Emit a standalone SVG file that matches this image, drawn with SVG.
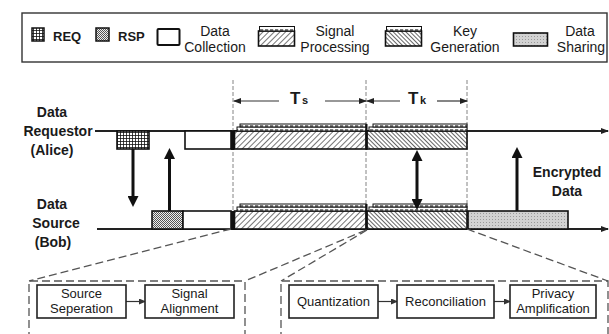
<svg xmlns="http://www.w3.org/2000/svg" width="609" height="334" viewBox="0 0 609 334">
<defs>
<style>
text{font-family:"Liberation Sans",Arial,sans-serif;fill:#1a1a1a}
.lg{font-size:14px}
.lgb{font-size:13px;font-weight:bold}
.lab{font-size:14px;font-weight:bold;text-anchor:middle}
.bx{font-size:13px;text-anchor:middle}
.blk{stroke:#111;stroke-width:1.6}
.lay{stroke:#111;stroke-width:1;fill:url(#dash)}
.tl{stroke:#222;stroke-width:2;fill:none}
.dv{stroke:#666;stroke-width:0.8;stroke-dasharray:4 2;fill:none}
.dx{stroke:#555;stroke-width:1.3;stroke-dasharray:8 4;fill:none}
.va{stroke:#111;stroke-width:3;fill:none}
.ha{stroke:#333;stroke-width:1.2;fill:none}
.fb{fill:#fff;stroke:#222;stroke-width:1.6}
</style>
<pattern id="grid" width="3" height="3" patternUnits="userSpaceOnUse">
<rect width="3" height="3" fill="#fff"/>
<path d="M0,0.5H3M0.5,0V3" stroke="#111" stroke-width="0.8"/>
</pattern>
<pattern id="mesh" width="2" height="2" patternUnits="userSpaceOnUse">
<rect width="2" height="2" fill="#eee"/>
<rect width="1" height="1" fill="#555"/>
<rect x="1" y="1" width="1" height="1" fill="#555"/>
</pattern>
<pattern id="sp" width="4" height="4" patternUnits="userSpaceOnUse" patternTransform="rotate(45)">
<rect width="4" height="4" fill="#fff"/>
<line x1="0.5" y1="0" x2="0.5" y2="4" stroke="#666" stroke-width="0.9"/>
</pattern>
<pattern id="kg" width="3" height="3" patternUnits="userSpaceOnUse" patternTransform="rotate(-45)">
<rect width="3" height="3" fill="#fff"/>
<line x1="0.5" y1="0" x2="0.5" y2="3" stroke="#555" stroke-width="0.9"/>
</pattern>
<pattern id="ds" width="3" height="3" patternUnits="userSpaceOnUse">
<rect width="3" height="3" fill="#d2d2d2"/>
<rect width="1" height="1" fill="#9a9a9a"/>
</pattern>
<pattern id="dash" width="5" height="4" patternUnits="userSpaceOnUse">
<rect width="5" height="4" fill="#fff"/>
<rect x="0" y="1.3" width="3.2" height="1.4" fill="#444"/>
</pattern>
<marker id="big" viewBox="0 0 11 11" refX="2" refY="5.5" markerWidth="11" markerHeight="11" markerUnits="userSpaceOnUse" orient="auto-start-reverse">
<path d="M0,0L11,5.5L0,11z" fill="#111"/>
</marker>
<marker id="sm" viewBox="0 0 8 6" refX="7" refY="3" markerWidth="8" markerHeight="6" markerUnits="userSpaceOnUse" orient="auto">
<path d="M0,0L8,3L0,6z" fill="#222"/>
</marker>
<marker id="tiny" viewBox="0 0 7 6" refX="6" refY="3" markerWidth="7" markerHeight="6" markerUnits="userSpaceOnUse" orient="auto">
<path d="M0,0L7,3L0,6z" fill="#333"/>
</marker>
</defs>

<rect width="609" height="334" fill="#fff"/>

<g id="legend">
<rect x="22" y="13" width="585" height="49" fill="#fff" stroke="#333" stroke-width="1.4"/>
<rect x="32" y="28" width="12" height="13" fill="url(#grid)" stroke="#111" stroke-width="1.5"/>
<text class="lgb" x="53" y="41">REQ</text>
<rect x="96" y="28" width="13" height="13" fill="url(#mesh)" stroke="#111" stroke-width="1.5"/>
<text class="lgb" x="118" y="41">RSP</text>
<rect x="157.5" y="29" width="22" height="16" rx="1" fill="#fff" stroke="#111" stroke-width="2"/>
<text class="lg" x="215" y="36" text-anchor="middle">Data</text>
<text class="lg" x="215" y="52" text-anchor="middle">Collection</text>
<rect x="258.5" y="31" width="36" height="15" fill="url(#sp)" class="blk"/>
<rect x="259.5" y="26.5" width="35" height="4.5" class="lay"/>
<text class="lg" x="335" y="36" text-anchor="middle">Signal</text>
<text class="lg" x="335" y="52" text-anchor="middle">Processing</text>
<rect x="385.5" y="31" width="36" height="15" fill="url(#kg)" class="blk"/>
<rect x="386.5" y="26.5" width="35" height="4.5" class="lay"/>
<text class="lg" x="465" y="36" text-anchor="middle">Key</text>
<text class="lg" x="465" y="52" text-anchor="middle">Generation</text>
<rect x="513.5" y="33" width="34" height="13" fill="url(#ds)" class="blk"/>
<text class="lg" x="580" y="36" text-anchor="middle">Data</text>
<text class="lg" x="581" y="52" text-anchor="middle">Sharing</text>
</g>

<g id="labels">
<text class="lab" x="52" y="117">Data</text>
<text class="lab" x="58" y="136">Requestor</text>
<text class="lab" x="52" y="155">(Alice)</text>
<text class="lab" x="52" y="209">Data</text>
<text class="lab" x="56" y="228">Source</text>
<text class="lab" x="53" y="247">(Bob)</text>
</g>

<g id="timing">
<line class="dv" x1="233" y1="80" x2="233" y2="230"/>
<line class="dv" x1="366" y1="80" x2="366" y2="230"/>
<line class="dv" x1="467" y1="80" x2="467" y2="230"/>
<line class="ha" x1="279" y1="101" x2="234" y2="101" marker-end="url(#sm)"/>
<line class="ha" x1="325" y1="101" x2="366" y2="101" marker-end="url(#sm)"/>
<line class="ha" x1="400" y1="101" x2="367" y2="101" marker-end="url(#sm)"/>
<line class="ha" x1="437" y1="101" x2="467" y2="101" marker-end="url(#sm)"/>
<text x="290" y="104" font-size="17" font-weight="bold">T</text>
<text x="302" y="104" font-size="11" font-weight="bold">s</text>
<text x="408" y="104" font-size="17" font-weight="bold">T</text>
<text x="420" y="104" font-size="11" font-weight="bold">k</text>
</g>

<g id="timelines">
<line class="tl" x1="95" y1="131" x2="608" y2="131" marker-end="url(#sm)"/>
<line class="tl" x1="97" y1="229" x2="608" y2="229" marker-end="url(#sm)"/>
</g>

<g id="alice-req"><rect x="117" y="131" width="32" height="18" fill="url(#grid)" class="blk"/></g>
<g id="alice-dc"><rect x="185" y="131" width="46" height="18" fill="#fff" class="blk"/></g>
<g id="alice-sp">
<rect x="231" y="131" width="3.5" height="19" fill="#111"/>
<rect x="234.5" y="131" width="131.5" height="18" fill="url(#sp)" class="blk"/>
<rect x="237" y="127" width="129" height="4" class="lay"/>
<rect x="240" y="124" width="126" height="3" class="lay"/>
</g>
<g id="alice-kg">
<rect x="367" y="131" width="100" height="18" fill="url(#kg)" class="blk"/>
<rect x="369" y="127" width="98" height="4" class="lay"/>
<rect x="373" y="124" width="94" height="3" class="lay"/>
<line x1="366.5" y1="124" x2="366.5" y2="150" stroke="#111" stroke-width="2"/>
</g>

<g id="bob-rsp"><rect x="152" y="211" width="31" height="18" fill="url(#mesh)" class="blk"/></g>
<g id="bob-dc"><rect x="183" y="211" width="48" height="18" fill="#fff" class="blk"/></g>
<g id="bob-sp">
<rect x="231" y="211" width="3.5" height="19" fill="#111"/>
<rect x="234.5" y="211" width="131.5" height="18" fill="url(#sp)" class="blk"/>
<rect x="237" y="207" width="129" height="4" class="lay"/>
<rect x="240" y="204" width="126" height="3" class="lay"/>
</g>
<g id="bob-kg">
<rect x="367" y="211" width="100" height="18" fill="url(#kg)" class="blk"/>
<rect x="369" y="207" width="98" height="4" class="lay"/>
<rect x="373" y="204" width="94" height="3" class="lay"/>
<line x1="366.5" y1="204" x2="366.5" y2="230" stroke="#111" stroke-width="2"/>
</g>
<g id="bob-ds"><rect x="468" y="211" width="100" height="18" fill="url(#ds)" class="blk"/></g>

<g id="connectors">
<line class="va" x1="133" y1="149" x2="133" y2="198" marker-end="url(#big)"/>
<line class="va" x1="169.5" y1="211" x2="169.5" y2="157" marker-end="url(#big)"/>
<line class="va" x1="417" y1="159" x2="417" y2="201" marker-start="url(#big)" marker-end="url(#big)"/>
<line class="va" x1="517" y1="211" x2="517" y2="156" marker-end="url(#big)"/>
<line class="dx" x1="231" y1="229" x2="29" y2="281"/>
<line class="dx" x1="366" y1="230" x2="245" y2="281"/>
<line class="dx" x1="367" y1="230" x2="281" y2="281"/>
<line class="dx" x1="467" y1="229" x2="608" y2="281"/>
<line class="ha" x1="126" y1="301.5" x2="145" y2="301.5" marker-end="url(#tiny)"/>
<line class="ha" x1="378" y1="301.5" x2="397" y2="301.5" marker-end="url(#tiny)"/>
<line class="ha" x1="494" y1="301.5" x2="510" y2="301.5" marker-end="url(#tiny)"/>
</g>

<g id="enc-label">
<text class="lab" x="567" y="177">Encrypted</text>
<text class="lab" x="567" y="196">Data</text>
</g>

<g id="group-sp"><path class="dx" d="M29,340V281H245V340"/></g>
<g id="group-kg"><path class="dx" d="M281,340V281H608V340"/></g>

<g id="source-separation">
<rect x="37" y="285" width="89" height="33" class="fb"/>
<text class="bx" x="81.5" y="298">Source</text>
<text class="bx" x="81.5" y="313">Seperation</text>
</g>
<g id="signal-alignment">
<rect x="145" y="285" width="89" height="33" class="fb"/>
<text class="bx" x="189.5" y="298">Signal</text>
<text class="bx" x="189.5" y="313">Alignment</text>
</g>
<g id="quantization">
<rect x="289" y="285" width="89" height="33" class="fb"/>
<text class="bx" x="333.5" y="306">Quantization</text>
</g>
<g id="reconciliation">
<rect x="397" y="285" width="97" height="33" class="fb"/>
<text class="bx" x="445.5" y="306">Reconciliation</text>
</g>
<g id="privacy-amplification">
<rect x="510" y="285" width="86" height="33" class="fb"/>
<text class="bx" x="553" y="298">Privacy</text>
<text class="bx" x="553" y="313">Amplification</text>
</g>
</svg>
